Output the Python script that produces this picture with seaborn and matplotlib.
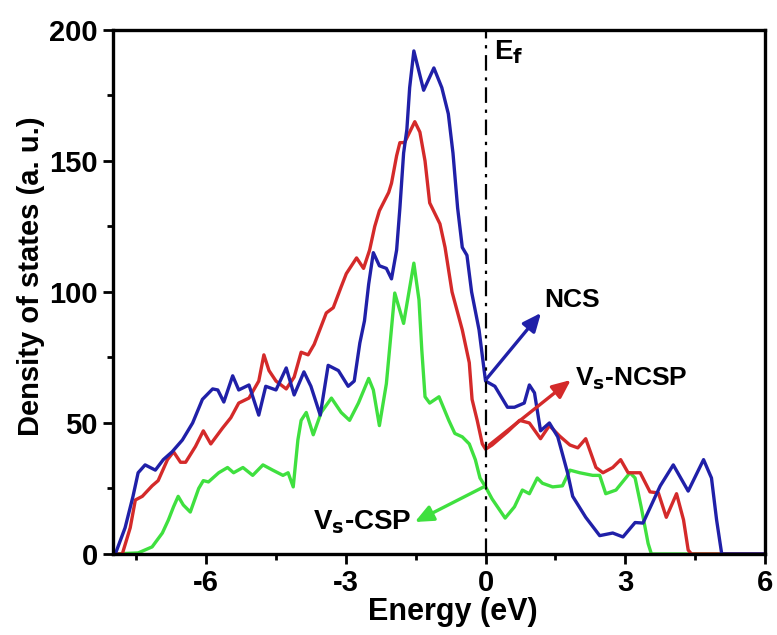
import matplotlib
matplotlib.use("Agg")
import matplotlib.pyplot as plt
import seaborn as sns
import pandas as pd

# ---- data ----
ncs_e = [-8.0, -7.95, -7.74, -7.57, -7.46, -7.31, -7.09, -6.92, -6.73, -6.51, -6.29, -6.08,
         -5.86, -5.75, -5.62, -5.43, -5.3, -5.08, -4.87, -4.72, -4.5, -4.28, -4.11, -3.9,
         -3.75, -3.55, -3.38, -3.16, -2.95, -2.82, -2.7, -2.6, -2.51, -2.41, -2.28, -2.13,
         -2.02, -1.91, -1.84, -1.76, -1.69, -1.63, -1.54, -1.33, -1.11, -0.94, -0.8, -0.7,
         -0.6, -0.5, -0.4, -0.3, -0.14, -0.03, 0.0, 0.2, 0.47, 0.62, 0.83, 0.94, 1.05, 1.18,
         1.37, 1.55, 1.76, 1.87, 2.15, 2.45, 2.73, 2.95, 3.21, 3.38, 3.75, 4.03, 4.35, 4.68,
         4.85, 4.96, 5.07, 6.0]
ncs_d = [0, 0, 10, 22, 31, 34, 32, 36, 39, 43.5, 50, 59,
         63, 62.6, 58, 68, 62.6, 64.5, 53, 64, 62.6, 71, 60.7, 69.5,
         64, 53, 72, 70, 64, 66, 80.5, 89, 103, 115, 110, 109,
         105, 116, 132, 153, 162, 178, 192, 177, 185.5, 178, 168, 153,
         132, 117, 114, 100, 85.5, 70, 66, 64, 56, 56, 57.6, 64.5, 61.5, 47,
         50, 44.7, 31, 22, 14, 7, 8, 6.5, 12, 11.8, 26, 34, 24, 36,
         29, 13, 0, 0]

ncsp_e = [-8.0, -7.8, -7.63, -7.52, -7.37, -7.16, -7.03, -6.83, -6.7, -6.55, -6.44, -6.23,
          -6.06, -5.9, -5.65, -5.47, -5.3, -5.08, -4.87, -4.76, -4.65, -4.5, -4.28, -4.11,
          -3.96, -3.81, -3.68, -3.42, -3.27, -3.1, -2.99, -2.77, -2.62, -2.49, -2.38, -2.28,
          -2.08, -2.02, -1.91, -1.84, -1.74, -1.52, -1.41, -1.3, -1.2, -1.09, -0.98, -0.87,
          -0.72, -0.5, -0.35, -0.29, -0.18, -0.07, 0.0, 0.14, 0.47, 0.73, 0.94, 1.18, 1.37,
          1.59, 1.81, 1.98, 2.15, 2.37, 2.52, 2.73, 2.9, 3.06, 3.32, 3.53, 3.71, 3.88, 4.1,
          4.25, 4.35, 4.42, 6.0]
ncsp_d = [0, 0, 10, 20.6, 22, 26, 28, 36, 39, 35, 35, 41,
          47, 42, 48, 52, 57.6, 59.5, 66, 76, 70, 66, 63, 67.5,
          77, 76, 80, 92, 94, 102, 107, 113, 109, 116, 125, 131,
          138, 141.5, 152, 157, 157, 165, 161, 150, 134, 130, 126, 117,
          100, 85.5, 73, 59, 51, 42, 40, 41.6, 46.6, 51, 50, 44, 49,
          45, 41.6, 40.5, 44, 33, 31, 33, 36, 31, 31, 23.7, 23.3, 14, 23,
          13, 1.5, 0, 0]

csp_e = [-8.0, -7.46, -7.16, -6.94, -6.81, -6.7, -6.6, -6.49, -6.34, -6.16, -6.06, -5.95,
         -5.73, -5.54, -5.41, -5.21, -5.0, -4.78, -4.57, -4.35, -4.24, -4.13, -4.03, -3.96,
         -3.85, -3.7, -3.53, -3.31, -3.1, -2.92, -2.73, -2.51, -2.41, -2.28, -2.13, -1.95,
         -1.76, -1.54, -1.43, -1.37, -1.3, -1.2, -1.0, -0.79, -0.66, -0.5, -0.35, -0.22,
         -0.12, 0.0, 0.14, 0.42, 0.62, 0.79, 0.94, 1.11, 1.22, 1.44, 1.65, 1.81, 2.02, 2.3,
         2.45, 2.58, 2.8, 3.1, 3.21, 3.34, 3.49, 3.56, 6.0]
csp_d = [0, 0.4, 2.7, 8, 13, 18, 22, 18.7, 16, 25, 28, 27.5,
         31, 33, 31, 33, 30, 34, 32, 30, 31, 25.6, 43.5, 51,
         54, 45.5, 54, 59.5, 54, 51, 57.6, 67, 62.6, 49, 65, 99.6,
         88, 111, 97, 78, 60, 57.6, 60, 51, 46, 44.7, 42, 36,
         29, 25.6, 21, 13.7, 18, 24.4, 23, 29, 27, 25.6, 26, 32, 31, 30,
         30, 23, 24.4, 31, 29, 18, 4, 0, 0]

x_ticks = [-6, -3, 0, 3, 6]
y_ticks = [0, 50, 100, 150, 200]

# ---- style ----
sns.set_style("ticks")
plt.rcParams["font.family"] = ["Liberation Sans", "DejaVu Sans"]
plt.rcParams["font.weight"] = "bold"
plt.rcParams["mathtext.default"] = "regular"
plt.rcParams["text.color"] = "black"
plt.rcParams["axes.labelcolor"] = "black"
plt.rcParams["xtick.color"] = "black"
plt.rcParams["ytick.color"] = "black"

fig = plt.figure(figsize=(7.77, 6.35), dpi=100)
ax = fig.add_axes([0.1454, 0.1276, 0.8392, 0.8252])

blue = "#2020a8"
red = "#d42a2a"
green = "#3fe03f"

df_csp = pd.DataFrame({"E": csp_e, "D": csp_d})
df_ncsp = pd.DataFrame({"E": ncsp_e, "D": ncsp_d})
df_ncs = pd.DataFrame({"E": ncs_e, "D": ncs_d})

sns.lineplot(data=df_csp, x="E", y="D", ax=ax, color=green, lw=2.4, sort=False, legend=False)
sns.lineplot(data=df_ncsp, x="E", y="D", ax=ax, color=red, lw=2.4, sort=False, legend=False)
sns.lineplot(data=df_ncs, x="E", y="D", ax=ax, color=blue, lw=2.4, sort=False, legend=False)

ax.axvline(0, color="black", lw=1.6, ls=(0, (7, 3, 1.5, 3)))

ax.set_xlim(-8, 6)
ax.set_ylim(0, 200)
ax.set_xticks(x_ticks)
ax.set_yticks(y_ticks)
ax.set_xticks([-7.5, -4.5, -1.5, 1.5, 4.5], minor=True)
ax.set_yticks([25, 75, 125, 175], minor=True)
ax.set_xticklabels([str(t) for t in x_ticks])
ax.set_yticklabels([str(t) for t in y_ticks])
ax.tick_params(which="major", direction="out", length=7, width=2, labelsize=21, pad=4,
               colors="black")
ax.tick_params(which="minor", direction="out", length=4, width=2, colors="black")
for lab in ax.get_xticklabels() + ax.get_yticklabels():
    lab.set_fontweight("bold")

for s in ax.spines.values():
    s.set_visible(True)
    s.set_linewidth(2.4)
    s.set_color("black")

ax.set_xlabel("Energy (eV)", fontsize=22, fontweight="bold", color="black")
ax.xaxis.set_label_coords(0.521, -0.082)
ax.set_ylabel("Density of states (a. u.)", fontsize=21, fontweight="bold", color="black")
ax.yaxis.set_label_coords(-0.105, 0.53)

# annotations
ax.text(0.19, 191.5, "E$_\\mathbf{f}$", fontsize=20, fontweight="bold", va="center", ha="left")
ax.text(1.27, 97, "NCS", fontsize=19, fontweight="bold", va="center", ha="left")
ax.text(1.91, 67, "V$_\\mathbf{s}$-NCSP", fontsize=19, fontweight="bold", va="center", ha="left")
ax.text(-1.58, 12.2, "V$_\\mathbf{s}$-CSP", fontsize=20, fontweight="bold", va="center", ha="right")

ax.annotate("", xy=(1.19, 92), xytext=(0.0, 66.4),
            arrowprops=dict(arrowstyle="-|>,head_length=0.5,head_width=0.22", color=blue, lw=2.4,
                            mutation_scale=22, shrinkA=0, shrinkB=0))
ax.annotate("", xy=(1.83, 66.4), xytext=(0.08, 41.6),
            arrowprops=dict(arrowstyle="-|>,head_length=0.5,head_width=0.22", color=red, lw=2.4,
                            mutation_scale=22, shrinkA=0, shrinkB=0))
ax.annotate("", xy=(-1.52, 12.2), xytext=(-0.04, 25.6),
            arrowprops=dict(arrowstyle="-|>,head_length=0.5,head_width=0.22", color=green, lw=2.4,
                            mutation_scale=22, shrinkA=0, shrinkB=0))

fig.savefig("out.png", dpi=100)
